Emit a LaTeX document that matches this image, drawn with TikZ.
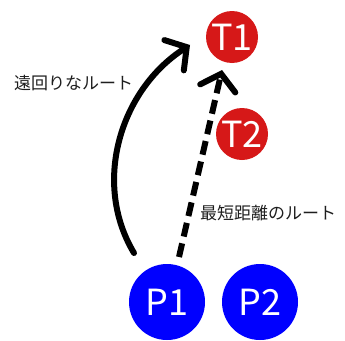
\documentclass[tikz,border=0pt]{standalone}
\usepackage{xcolor}
\usepackage{fontspec}
\setmainfont{Noto Sans CJK JP}
\usepackage{tikz}
\usetikzlibrary{arrows.meta, positioning, calc}
\definecolor{tgtred}{RGB}{214,24,24}
\definecolor{ptblue}{RGB}{0,0,255}
\definecolor{mydark}{RGB}{30,30,30}
\tikzset{
  target/.style={circle, fill=tgtred, minimum size=52pt, inner sep=0pt,
    text=white, font=\fontsize{36}{36}\selectfont},
  person/.style={circle, fill=ptblue, minimum size=76pt, inner sep=0pt,
    text=white, font=\fontsize{36}{36}\selectfont},
  route/.style={-{Straight Barb[length=15pt, width=36pt, line cap=round]},
    line width=6pt, color=black, line cap=round},
  label/.style={font=\fontsize{17}{17}\selectfont, text=mydark, inner sep=0pt}
}
\begin{document}
\begin{tikzpicture}[x=1pt, y=-1pt]
  \useasboundingbox (0,0) rectangle (345,340);
  \node[target] (T1) at (232, 37) {T1};
  \node[target] (T2) at (242, 134) {T2};
  \node[person] (P1) at (167, 302) {P1};
  \node[person] (P2) at (260, 302) {P2};

  \coordinate (longfrom) at ($(P1)+(-33,-49)$);
  \coordinate (longto) at ($(T1)+(-42,8)$);
  \coordinate (shortfrom) at ($(P1)+(12,-45)$);
  \coordinate (shortto) at ($(T1)+(-10,33)$);

  % Routes
  \draw[route] (longfrom) .. controls ($(longfrom)+(-42,-70)$) and ($(longto)+(-70,45)$) .. (longto);
  \draw[route, line cap=butt, dash pattern=on 14pt off 7pt] (shortfrom) -- (shortto);

  % Labels
  \node[label, anchor=west] (longlbl) at (14, 83) {遠回りなルート};
  \node[label, anchor=west] (shortlbl) at (200, 213) {最短距離のルート};
\end{tikzpicture}
\end{document}
